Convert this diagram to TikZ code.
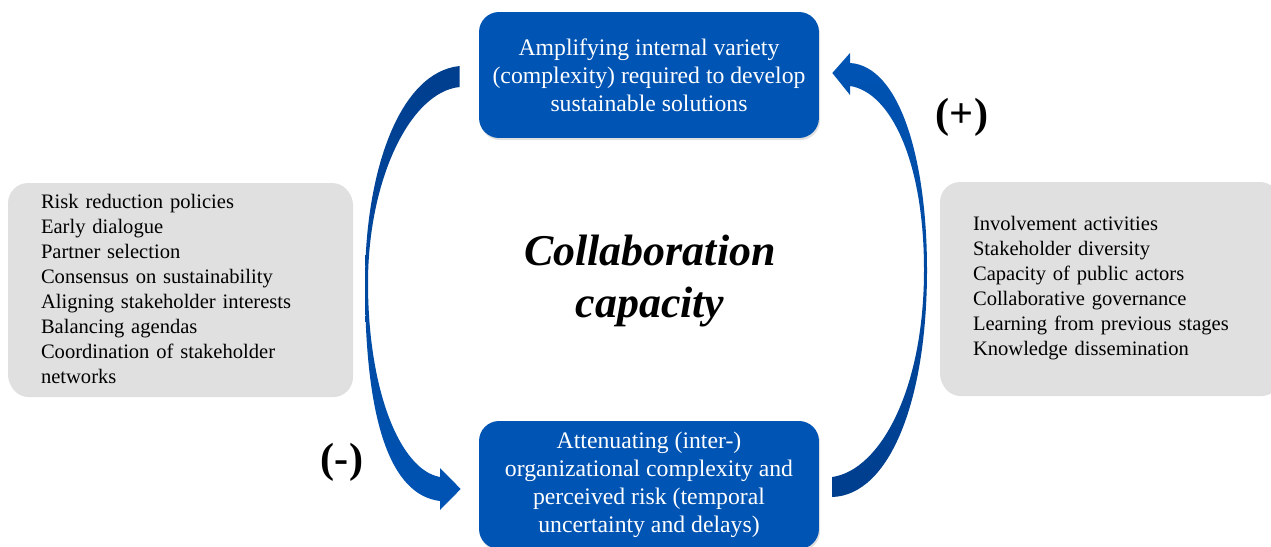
\documentclass[tikz,border=0pt]{standalone}
\usepackage{fontspec}
\setmainfont{Liberation Serif}
\usetikzlibrary{positioning,shadows}
\definecolor{stageblue}{RGB}{0,84,180}
\definecolor{loopdark}{RGB}{0,62,142}
\definecolor{factorgray}{RGB}{224,224,224}
\tikzset{stage/.style={rectangle,rounded corners=0.4cm,fill=stageblue,text=white,align=center,
  minimum width=6.8cm,minimum height=2.52cm,font=\fontsize{13.5}{15.9}\selectfont,
  drop shadow={opacity=0.25,shadow xshift=0.6pt,shadow yshift=-1.2pt}}}
\tikzset{factors/.style={rectangle,rounded corners=0.4cm,fill=factorgray,align=left,
  text width=5.56cm,inner xsep=0.66cm,minimum height=4.24cm,font=\fontsize{11.7}{14.2}\selectfont,
  drop shadow={opacity=0.25,shadow xshift=0.6pt,shadow yshift=-1.2pt}}}
\tikzset{sign/.style={font=\fontsize{24}{28}\selectfont\bfseries}}

\begin{document}
\begin{tikzpicture}[x=0.02cm,y=-0.02cm]
  \useasboundingbox (0,0) rectangle (1271,547);
  \node[stage] (amplify) at (649,75) {Amplifying internal variety\\(complexity) required to develop\\sustainable solutions};
  \node[stage,minimum height=2.56cm] (attenuate) at (649,485) {Attenuating (inter-)\\organizational complexity and\\perceived risk (temporal\\uncertainty and delays)};
  \node[factors] (reduce) at (180,289) {Risk reduction policies\\Early dialogue\\Partner selection\\Consensus on sustainability\\Aligning stakeholder interests\\Balancing agendas\\Coordination of stakeholder\\networks};
  \node[factors,text width=5.48cm] (involve) at (1110,288) {Involvement activities\\Stakeholder diversity\\Capacity of public actors\\Collaborative governance\\Learning from previous stages\\Knowledge dissemination};
  \node[font=\fontsize{25}{30}\selectfont\bfseries\itshape,align=center] (capacity) at (650,281) {Collaboration\\capacity};
  \node[sign] (plus) at (962,117) {(+)};
  \node[sign] (minus) at (342,462) {(-)};
  \shade[top color=loopdark,bottom color=stageblue]
    ([shift={(-19,-9)}]amplify.west) .. controls (400,72) and (365,170) .. (365,283)
    .. controls (365,420) and (390,495) .. (440,501) -- (440,510)
    -- ([shift={(-18,4)}]attenuate.west) -- (440,468) -- (440,477)
    .. controls (400,470) and (368,390) .. (368,283)
    .. controls (368,180) and (410,92) .. ([shift={(-19,12)}]amplify.west) -- cycle;
  \shade[top color=stageblue,bottom color=loopdark]
    ([shift={(13,-8)}]attenuate.east) .. controls (880,470) and (924,390) .. (924,270)
    .. controls (924,160) and (890,92) .. (850,86) -- (850,95)
    -- ([shift={(13,-2)}]amplify.east) -- (850,53) -- (850,63)
    .. controls (900,66) and (927,160) .. (927,270)
    .. controls (927,400) and (890,495) .. ([shift={(13,12)}]attenuate.east) -- cycle;
\end{tikzpicture}
\end{document}
